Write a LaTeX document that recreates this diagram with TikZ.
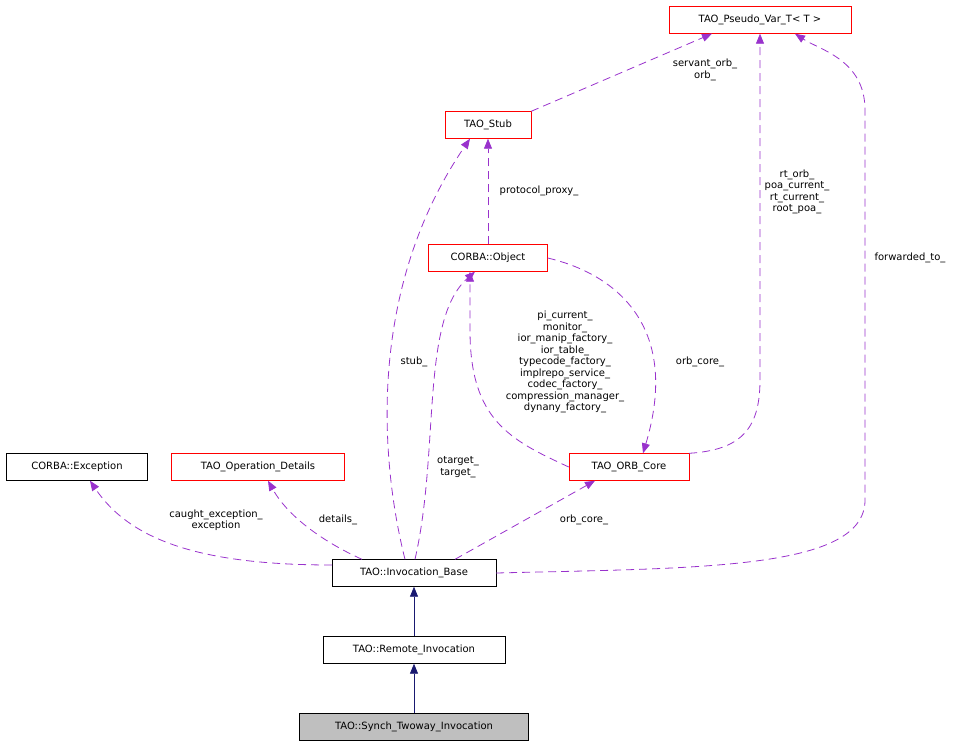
\documentclass[tikz,border=0pt]{standalone}
\usepackage{fontspec}
\setmainfont{DejaVu Sans}
\usetikzlibrary{arrows.meta}
\definecolor{usec}{RGB}{153,50,204}
\definecolor{inhc}{RGB}{25,25,112}
\begin{document}
\begin{tikzpicture}[x=1pt,y=-1pt,font=\fontsize{10}{11.5}\selectfont,
 box/.style={draw=#1,fill=white,minimum height=27pt,inner sep=2pt,anchor=center},
 use/.style={draw=usec,line width=0.8pt,dash pattern=on 8pt off 5pt,-{Triangle[length=10pt,width=8pt,fill=usec]}},
 inh/.style={draw=inhc,line width=0.8pt,-{Triangle[length=10pt,width=8pt,fill=inhc]}},
 lab/.style={align=center,inner sep=0pt}]
\useasboundingbox (0,0) rectangle (964,747);
\node[box=red,minimum width=182pt] (pv) at (760,20) {TAO\_Pseudo\_Var\_T< T >};
\node[box=red,minimum width=86pt] (stub) at (488,125) {TAO\_Stub};
\node[box=red,minimum width=119pt] (obj) at (488,258) {CORBA::Object};
\node[box=black,minimum width=141pt] (exc) at (77,467) {CORBA::Exception};
\node[box=red,minimum width=173pt] (od) at (258,467) {TAO\_Operation\_Details};
\node[box=red,minimum width=120pt] (orb) at (629,467) {TAO\_ORB\_Core};
\node[box=black,minimum width=164pt] (ib) at (414,573) {TAO::Invocation\_Base};
\node[box=black,minimum width=182pt] (ri) at (414,650) {TAO::Remote\_Invocation};
\node[box=black,fill={rgb,255:red,191;green,191;blue,191},minimum width=229pt] (sti) at (414,727) {TAO::Synch\_Twoway\_Invocation};
\coordinate (ibW) at (332,565);
\draw[inh] (ri) -- (ib);
\draw[inh] (sti) -- (ri);
\draw[use] (ibW) .. controls (200,565) and (130,540) .. (exc.south -| 90,0) ;
\draw[use] (ib.north -| 362,0) .. controls (330,545) and (290,520) .. (od.south -| 268,0);
\draw[use] (ib.north -| 405,0) .. controls (385,480) and (360,300) .. (stub.south -| 470,0);
\draw[use] (ib.north -| 415,0) .. controls (440,450) and (420,320) .. (obj.south -| 475,0);
\draw[use] (ib.north -| 455,0) -- (orb.south -| 595,0);
\draw[use] (ib.east) .. controls (700,568) and (865,570) .. (865,500) -- (865,110) .. controls (865,60) and (820,50) .. (pv.south -| 795,0);
\draw[use] (orb.west) .. controls (510,440) and (470,420) .. (470,330) -- (obj.south -| 470,0);
\draw[use] (obj.east) .. controls (620,275) and (680,330) .. (orb.north -| 643,0);
\draw[use] (orb.north east) .. controls (740,450) and (760,430) .. (760,380) -- (pv.south -| 760,0);
\draw[use] (obj) -- (stub);
\draw[use] (stub.north east) -- (pv.south -| 712,0);
\node[lab] (l1) at (216,520) {caught\_exception\_\\exception};
\node[lab] (l2) at (338,520) {details\_};
\node[lab] (l3) at (414,362) {stub\_};
\node[lab] (l4) at (458,467) {otarget\_\\target\_};
\node[lab] (l5) at (584,520) {orb\_core\_};
\node[lab] (l6) at (910,258) {forwarded\_to\_};
\node[lab] (l7) at (565,362) {pi\_current\_\\monitor\_\\ior\_manip\_factory\_\\ior\_table\_\\typecode\_factory\_\\implrepo\_service\_\\codec\_factory\_\\compression\_manager\_\\dynany\_factory\_};
\node[lab] (l8) at (700,362) {orb\_core\_};
\node[lab] (l9) at (797,192) {rt\_orb\_\\poa\_current\_\\rt\_current\_\\root\_poa\_};
\node[lab] (l10) at (539,191) {protocol\_proxy\_};
\node[lab] (l11) at (705,70) {servant\_orb\_\\orb\_};
\end{tikzpicture}
\end{document}
